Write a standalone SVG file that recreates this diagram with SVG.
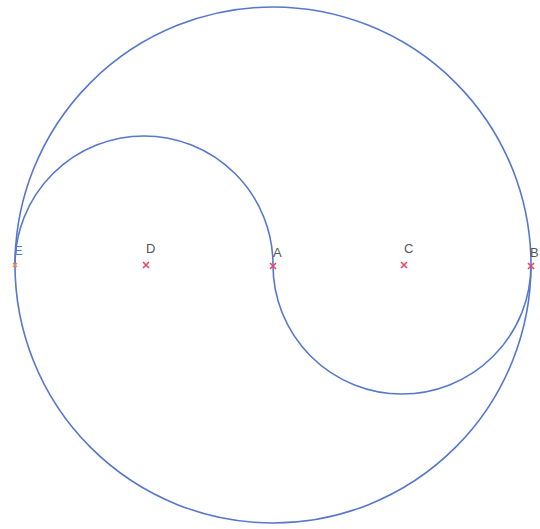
<svg xmlns="http://www.w3.org/2000/svg" width="540" height="529" viewBox="0 0 540 529">
<style>
.c{fill:none;stroke:#5577cc;stroke-width:1.6}
.m{stroke:#e8456a;stroke-width:1.6}
.me{stroke:#f08850;stroke-width:1.6}
.t{font-family:"Liberation Sans",Arial,sans-serif;font-size:13px;fill:#555}
.tb{font-family:"Liberation Sans",Arial,sans-serif;font-size:13px;fill:#5577cc}
</style>
<rect width="540" height="529" fill="#fff"/>
<g id="connectors">
<circle class="c" cx="273" cy="265" r="258"/>
<path class="c" d="M15,265 A129,129 0 0 1 273,265"/>
<path class="c" d="M273,265 A129,129 0 0 0 531,265"/>
</g>
<g id="E"><path class="me" d="M13,263 l4,4 M17,263 l-4,4"/><text class="tb" x="14" y="255">E</text></g>
<g id="D"><path class="m" d="M143,262 l6,6 M149,262 l-6,6"/><text class="t" x="146" y="253">D</text></g>
<g id="A"><path class="m" d="M270,263 l6,6 M276,263 l-6,6"/><text class="t" x="273" y="257">A</text></g>
<g id="C"><path class="m" d="M401,262 l6,6 M407,262 l-6,6"/><text class="t" x="404" y="253">C</text></g>
<g id="B"><path class="m" d="M528,263 l6,6 M534,263 l-6,6"/><text class="t" x="530" y="257">B</text></g>
</svg>
